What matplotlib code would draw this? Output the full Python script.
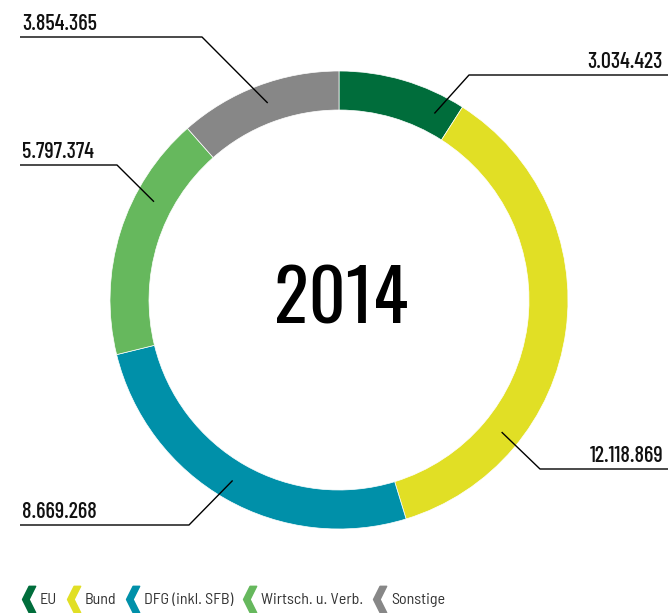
import numpy as np
import matplotlib
matplotlib.use("Agg")
import matplotlib.pyplot as plt
from matplotlib.path import Path
from matplotlib.lines import Line2D

plt.rcParams['font.family'] = ['Barlow Semi Condensed', 'DejaVu Sans']

# Daten
kategorien = ["EU", "Bund", "DFG (inkl. SFB)", "Wirtsch. u. Verb.", "Sonstige"]
werte = [3034423, 12118869, 8669268, 5797374, 3854365]
beschriftungen = ["3.034.423", "12.118.869", "8.669.268", "5.797.374", "3.854.365"]
farben = ["#006d3b", "#e1df25", "#0090a9", "#66b85d", "#878787"]
jahr = "2014"

# Layout (Pixel, y nach oben)
W, H = 668, 613
cx, cy = 339, H - 300
r_aussen = 229
ring = 39
# Position der Linie im Segment (Anteil zwischen theta1 und theta2)
anker_anteil = [0.17, 0.26, 0.49, 0.33, 0.48]
knick = [(469, 75), (540, 469), (189, 525), (117, 165), (202, 37)]
linien_ende = [668, 668, 20, 20, 20]

fig = plt.figure(figsize=(W / 100, H / 100), dpi=100)
ax = fig.add_axes([0, 0, 1, 1])

wedges, _ = ax.pie(werte, colors=farben, startangle=90, counterclock=False,
                   radius=r_aussen, center=(cx, cy),
                   wedgeprops=dict(width=ring, edgecolor="white", linewidth=0.5))
ax.set_xlim(0, W)
ax.set_ylim(0, H)
ax.set_aspect("equal")
ax.axis("off")

ax.text(cx + 2, cy - 1, jahr, ha="center", va="center", fontsize=52, color="black",
        family=["Oswald", "Barlow Condensed", "DejaVu Sans"])

r_anker = r_aussen - ring / 2
lab_font = dict(fontsize=16, color="#111111", family=["Barlow Condensed", "DejaVu Sans"], weight=500)
for w, f, (kx, ky), xe, txt in zip(wedges, anker_anteil, knick, linien_ende, beschriftungen):
    ang = np.deg2rad(w.theta1 + f * (w.theta2 - w.theta1))
    ax0 = cx + r_anker * np.cos(ang)
    ay0 = cy + r_anker * np.sin(ang)
    ky = H - ky
    ax.plot([ax0, kx, xe], [ay0, ky, ky], color="black", lw=1.0, solid_capstyle="butt")
    if xe > kx:
        ax.text(663, ky + 7, txt, ha="right", va="baseline", **lab_font)
    else:
        ax.text(22, ky + 7, txt, ha="left", va="baseline", **lab_font)

# Legende mit Winkel-Markern
chevron = Path([(0.0, 0.0), (0.5, 1.0), (1.0, 1.0), (0.5, 0.0), (1.0, -1.0), (0.5, -1.0), (0.0, 0.0)],
               [Path.MOVETO] + [Path.LINETO] * 5 + [Path.CLOSEPOLY])
handles = [Line2D([], [], ls="none", marker=chevron, markersize=19,
                  markerfacecolor=c, markeredgecolor=c) for c in farben]
fig.legend(handles, kategorien, loc="lower left", bbox_to_anchor=(-0.001, -0.014), ncol=5,
           frameon=False, handlelength=1.0, handletextpad=0.62, columnspacing=0.12,
           prop=dict(size=11.5, family=["Barlow Semi Condensed", "DejaVu Sans"]), labelcolor="#333333")

fig.savefig("out.png", dpi=100)
